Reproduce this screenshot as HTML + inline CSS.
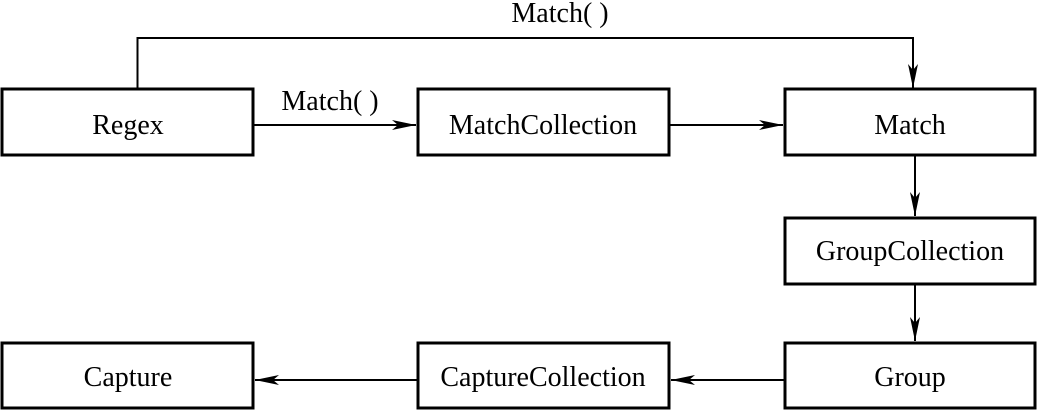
<!DOCTYPE html>
<html><head><style>html,body{margin:0;padding:0;background:#fff}svg{display:block}</style></head>
<body>
<svg width="1039" height="411" viewBox="0 0 1039 411" xmlns="http://www.w3.org/2000/svg">
<defs><marker id="a" markerWidth="24" markerHeight="10" refX="24" refY="5" orient="auto" markerUnits="userSpaceOnUse"><path d="M0,0 L24,5 L0,10 L6,5 Z" fill="#000"/></marker></defs>
<g fill="none" stroke="#000" stroke-width="3">
<rect x="2" y="89" width="251" height="66"/>
<rect x="418" y="89" width="251" height="66"/>
<rect x="785" y="89" width="250" height="66"/>
<rect x="785" y="218" width="250" height="66"/>
<rect x="785" y="343" width="250" height="65"/>
<rect x="418" y="343" width="251" height="65"/>
<rect x="2" y="343" width="251" height="65"/>
</g>
<g fill="none" stroke="#000" stroke-width="2">
<polyline points="137.5,88 137.5,38 913,38 913,88" marker-end="url(#a)"/>
<line x1="254" y1="125" x2="416" y2="125" marker-end="url(#a)"/>
<line x1="670" y1="125" x2="783" y2="125" marker-end="url(#a)"/>
<line x1="915" y1="156" x2="915" y2="216" marker-end="url(#a)"/>
<line x1="915" y1="285" x2="915" y2="341" marker-end="url(#a)"/>
<line x1="784" y1="380" x2="671" y2="380" marker-end="url(#a)"/>
<line x1="417" y1="380" x2="255" y2="380" marker-end="url(#a)"/>
</g>
<g font-family="Liberation Serif, serif" font-size="28" text-anchor="middle" fill="#000">
<text x="128" y="134">Regex</text>
<text x="543" y="134">MatchCollection</text>
<text x="910" y="134">Match</text>
<text x="910" y="260">GroupCollection</text>
<text x="910" y="386">Group</text>
<text x="543" y="386">CaptureCollection</text>
<text x="128" y="386">Capture</text>
<text x="330" y="110">Match( )</text>
<text x="560" y="22">Match( )</text>
</g>
</svg>
</body></html>
